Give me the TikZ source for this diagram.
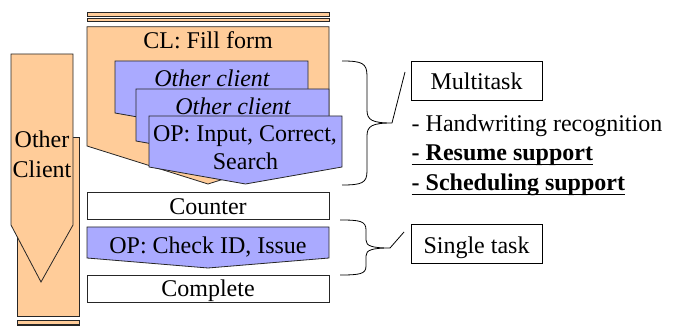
\documentclass[tikz,border=0pt]{standalone}
\usepackage{fontspec}
\setmainfont{Liberation Serif}
\definecolor{peach}{RGB}{255,204,153}
\definecolor{lilac}{RGB}{170,170,255}
\begin{document}
\begin{tikzpicture}[x=1pt,y=-1pt,
  every node/.style={font=\fontsize{24}{28}\selectfont, inner sep=0pt},
  outline/.style={draw=black!85, line width=0.8pt},
  peachshape/.style={outline, fill=peach},
  lilacshape/.style={outline, fill=lilac},
  plainbox/.style={outline, fill=white},
  tagbox/.style={draw, line width=0.7pt, fill=white, minimum width=131pt, minimum height=39pt},
  brace/.style={draw, line width=0.8pt},
  lbl/.style={anchor=base}]
\useasboundingbox (0,0) rectangle (681,326);

% left column: other client lane
\path[peachshape] (17,137) rectangle (79,316);
\path[peachshape] (11,54) -- (73,54) -- (73,225) -- (41,282) -- (11,225) -- cycle;
\path[peachshape] (17,320) rectangle (79,324);
\path[peachshape] (17,325.5) rectangle (79,328);
\node[lbl] (oc1) at (42,148) {Other};
\node[lbl] (oc2) at (42,178) {Client};

% top bars over the form column
\path[peachshape] (87,12.3) rectangle (329,16.3);
\path[peachshape] (87,18.3) rectangle (329,21.7);

% client fills the form
\path[peachshape] (87,26.7) -- (329,26.7) -- (329,146) -- (208,184) -- (87,146) -- cycle;
\node[lbl] (cl) at (208,48.3) {CL: Fill form};

% stacked operator steps
\path[lilacshape] (115,61) -- (308,61) -- (308,113) -- (211.5,130) -- (115,113) -- cycle;
\node[lbl] (other1) at (212,86.7) {\itshape Other client};
\path[lilacshape] (136,89) -- (329,89) -- (329,141) -- (232.5,158) -- (136,141) -- cycle;
\node[lbl] (other2) at (233,115) {\itshape Other client};
\path[lilacshape] (149,116) -- (342,116) -- (342,167) -- (245.5,184) -- (149,167) -- cycle;
\node[lbl] (op1) at (245,141.7) {OP: Input, Correct,};
\node[lbl] (op2) at (245.5,170) {Search};

% counter steps
\node[plainbox, minimum width=242pt, minimum height=27pt] (counter) at (208,205.5) {};
\node[lbl] at (208,215) {Counter};
\path[lilacshape] (87,227) -- (329,227) -- (329,258) -- (208,268) -- (87,258) -- cycle;
\node[lbl] (op3) at (208,254) {OP: Check ID, Issue};
\node[plainbox, minimum width=242pt, minimum height=27pt] (complete) at (208,288.5) {};
\node[lbl] at (208,297) {Complete};

% multitask brace and notes
\coordinate (b1tip) at (392,123);
\coordinate (b1end) at (405,72);
\draw[brace] (342,61) .. controls (362,61) and (367,63) .. (367,76) -- (367,110)
  .. controls (367,120) and (372,123) .. (b1tip)
  .. controls (372,123) and (367,126) .. (367,136) -- (367,171)
  .. controls (367,183) and (362,185) .. (342,185);
\draw[brace] (b1tip) -- (b1end);
\node[tagbox] (multi) at (476.5,80.5) {};
\node[lbl] at (476.5,89.3) {Multitask};
\node[anchor=base west] (hw) at (411.5,131.7) {- Handwriting recognition};
\node[anchor=base west, font=\fontsize{24}{28}\selectfont\bfseries] (res) at (411.5,160.7) {- Resume support};
\node[anchor=base west, font=\fontsize{24}{28}\selectfont\bfseries] (sch) at (411.5,190.7) {- Scheduling support};
\draw[line width=1pt] ([yshift=-3.6pt]res.base west) -- ([yshift=-3.6pt]res.base east);
\draw[line width=1pt] ([yshift=-3.8pt]sch.base west) -- ([yshift=-3.8pt]sch.base east);

% single task brace
\coordinate (b2tip) at (390,248);
\coordinate (b2end) at (404,232);
\draw[brace] (340,220) .. controls (360,220) and (366,221) .. (366,230) -- (366,240)
  .. controls (366,246) and (372,248) .. (b2tip)
  .. controls (372,248) and (366,250) .. (366,256) -- (366,266)
  .. controls (366,274) and (360,275) .. (340,275);
\draw[brace] (b2tip) -- (b2end);
\node[tagbox] (single) at (476.5,244) {};
\node[lbl] at (476.5,253.3) {Single task};
\end{tikzpicture}
\end{document}
